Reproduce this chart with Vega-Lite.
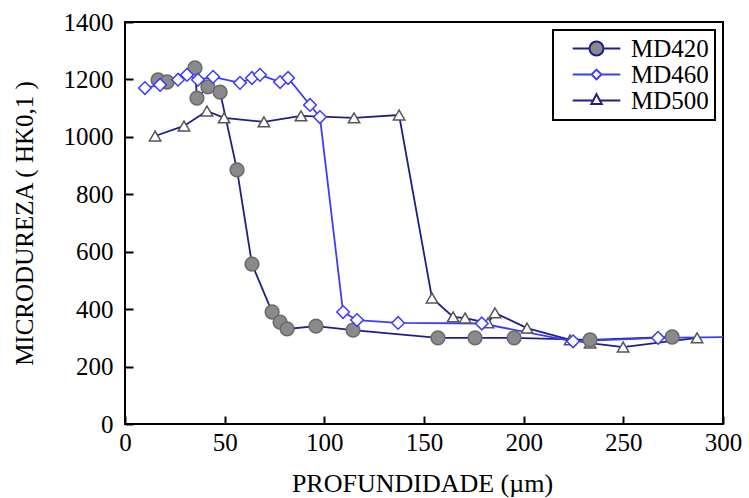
{
  "$schema": "https://vega.github.io/schema/vega-lite/v6.json",
  "width": 598,
  "height": 402,
  "autosize": {"type": "none"},
  "padding": {"left": 125, "top": 22, "right": 26, "bottom": 74},
  "background": "white",
  "config": {
    "font": "Liberation Serif",
    "view": {"stroke": "black", "strokeWidth": 2},
    "axis": {
      "grid": false,
      "domain": false,
      "ticks": true,
      "tickColor": "black",
      "tickWidth": 2,
      "tickSize": 8,
      "offset": -8,
      "labelFont": "Liberation Serif",
      "labelFontSize": 25,
      "labelColor": "black",
      "titleFont": "Liberation Serif",
      "titleFontSize": 25,
      "titleFontWeight": "normal",
      "titleColor": "black"
    },
    "legend": {
      "strokeColor": "black",
      "strokeWidth": 2,
      "fillColor": "white",
      "padding": 6,
      "labelFont": "Liberation Serif",
      "labelFontSize": 25,
      "labelColor": "black"
    }
  },
  "data": {
    "values": [
      {"series": "MD500", "x": 15.1, "y": 1003},
      {"series": "MD500", "x": 29.6, "y": 1038},
      {"series": "MD500", "x": 41.1, "y": 1090},
      {"series": "MD500", "x": 49.7, "y": 1066},
      {"series": "MD500", "x": 69.7, "y": 1052},
      {"series": "MD500", "x": 88.3, "y": 1073},
      {"series": "MD500", "x": 114.9, "y": 1066},
      {"series": "MD500", "x": 137.5, "y": 1076},
      {"series": "MD500", "x": 154, "y": 439},
      {"series": "MD500", "x": 164.6, "y": 373},
      {"series": "MD500", "x": 170.6, "y": 369},
      {"series": "MD500", "x": 182.1, "y": 352},
      {"series": "MD500", "x": 185.6, "y": 387},
      {"series": "MD500", "x": 201.7, "y": 334},
      {"series": "MD500", "x": 223.3, "y": 293},
      {"series": "MD500", "x": 233.3, "y": 282},
      {"series": "MD500", "x": 249.9, "y": 268},
      {"series": "MD500", "x": 287, "y": 300},
      {"series": "MD420", "x": 16.6, "y": 1198},
      {"series": "MD420", "x": 21.1, "y": 1191},
      {"series": "MD420", "x": 35.1, "y": 1240},
      {"series": "MD420", "x": 36.1, "y": 1135},
      {"series": "MD420", "x": 41.6, "y": 1174},
      {"series": "MD420", "x": 47.7, "y": 1156},
      {"series": "MD420", "x": 56.2, "y": 885},
      {"series": "MD420", "x": 63.7, "y": 557},
      {"series": "MD420", "x": 73.8, "y": 390},
      {"series": "MD420", "x": 77.8, "y": 355},
      {"series": "MD420", "x": 81.3, "y": 331},
      {"series": "MD420", "x": 95.8, "y": 341},
      {"series": "MD420", "x": 114.4, "y": 327},
      {"series": "MD420", "x": 157, "y": 300},
      {"series": "MD420", "x": 175.6, "y": 300},
      {"series": "MD420", "x": 195.2, "y": 300},
      {"series": "MD420", "x": 233.3, "y": 293},
      {"series": "MD420", "x": 274.5, "y": 303},
      {"series": "MD460", "x": 10.0, "y": 1170},
      {"series": "MD460", "x": 17.6, "y": 1181},
      {"series": "MD460", "x": 26.6, "y": 1199},
      {"series": "MD460", "x": 31.1, "y": 1216},
      {"series": "MD460", "x": 36.6, "y": 1199},
      {"series": "MD460", "x": 44.2, "y": 1209},
      {"series": "MD460", "x": 57.7, "y": 1188},
      {"series": "MD460", "x": 63.7, "y": 1205},
      {"series": "MD460", "x": 67.7, "y": 1216},
      {"series": "MD460", "x": 77.8, "y": 1191},
      {"series": "MD460", "x": 81.8, "y": 1205},
      {"series": "MD460", "x": 92.8, "y": 1111},
      {"series": "MD460", "x": 97.8, "y": 1069},
      {"series": "MD460", "x": 109.4, "y": 390},
      {"series": "MD460", "x": 116.4, "y": 362},
      {"series": "MD460", "x": 137, "y": 352},
      {"series": "MD460", "x": 179, "y": 350},
      {"series": "MD460", "x": 224.8, "y": 288},
      {"series": "MD460", "x": 267.4, "y": 300},
      {"series": "MD460", "x": 303, "y": 303}
    ]
  },
  "encoding": {
    "x": {
      "field": "x",
      "type": "quantitative",
      "scale": {"domain": [0, 300], "nice": false},
      "axis": {
        "values": [0, 50, 100, 150, 200, 250, 300],
        "format": "d",
        "labelPadding": 6,
        "labelFlush": false,
        "title": "PROFUNDIDADE (µm)",
        "titleFontSize": 26,
        "titleX": 297,
        "titleY": 67,
        "titleBaseline": "middle",
        "titleAlign": "center"
      }
    },
    "y": {
      "field": "y",
      "type": "quantitative",
      "scale": {"domain": [0, 1400], "nice": false},
      "axis": {
        "values": [0, 200, 400, 600, 800, 1000, 1200, 1400],
        "format": "d",
        "labelPadding": 12,
        "title": "MICRODUREZA ( HK0,1 )",
        "titleX": -109,
        "titleY": 201,
        "titleAngle": 270,
        "titleBaseline": "middle",
        "titleAlign": "center"
      }
    }
  },
  "layer": [
    {
      "mark": {"type": "line", "strokeWidth": 1.8, "clip": true},
      "encoding": {
        "color": {
          "field": "series",
          "type": "nominal",
          "scale": {"domain": ["MD420", "MD460", "MD500"], "range": ["#1e1e8c", "#3c3cff", "#1e1e8c"]},
          "legend": null
        }
      }
    },
    {
      "mark": {"type": "point", "opacity": 1, "strokeWidth": 1.5, "clip": true},
      "encoding": {
        "shape": {
          "field": "series",
          "type": "nominal",
          "scale": {"domain": ["MD420", "MD460", "MD500"], "range": ["circle", "diamond", "triangle-up"]},
          "legend": null
        },
        "fill": {
          "field": "series",
          "type": "nominal",
          "scale": {"domain": ["MD420", "MD460", "MD500"], "range": ["#8a8a8a", "#ffffff", "#ffffff"]},
          "legend": null
        },
        "stroke": {
          "field": "series",
          "type": "nominal",
          "scale": {"domain": ["MD420", "MD460", "MD500"], "range": ["#6a6a6a", "#3c3cff", "#555555"]},
          "legend": null
        },
        "size": {
          "field": "series",
          "type": "nominal",
          "scale": {"domain": ["MD420", "MD460", "MD500"], "range": [190, 130, 220]},
          "legend": null
        }
      }
    },
    {
      "transform": [{"filter": "false"}],
      "mark": {"type": "point", "opacity": 1, "strokeWidth": 2, "size": 196},
      "encoding": {
        "shape": {
          "field": "series",
          "type": "nominal",
          "scale": {
            "domain": ["MD420", "MD460", "MD500"],
            "range": [
              "M-3.4,0H-1M1,0H3.4M-1,0A1,1,0,1,1,1,0A1,1,0,1,1,-1,0Z",
              "M-3.4,0H-0.7M0.7,0H3.4M0,-0.7L0.7,0L0,0.7L-0.7,0Z",
              "M-3.4,0H-0.48M0.48,0H3.4M0,-0.9L0.75,0.5L-0.75,0.5Z"
            ]
          },
          "legend": {
            "title": null,
            "orient": "none",
            "legendX": 428,
            "legendY": 8,
            "symbolSize": 196,
            "symbolStrokeWidth": 2,
            "symbolOffset": 25,
            "labelOffset": 22,
            "rowPadding": -1
          }
        },
        "fill": {
          "field": "series",
          "type": "nominal",
          "scale": {"domain": ["MD420", "MD460", "MD500"], "range": ["#8a8a8a", "#ffffff", "#ffffff"]}
        },
        "stroke": {
          "field": "series",
          "type": "nominal",
          "scale": {"domain": ["MD420", "MD460", "MD500"], "range": ["#1e1e8c", "#3c3cff", "#1e1e8c"]}
        }
      }
    }
  ],
  "resolve": {
    "scale": {"shape": "independent", "fill": "independent", "stroke": "independent"}
  }
}
